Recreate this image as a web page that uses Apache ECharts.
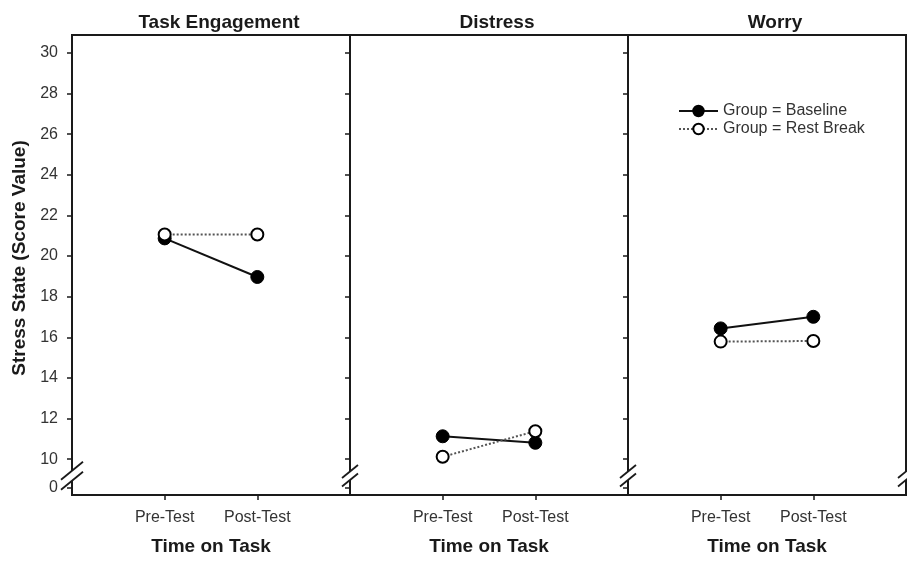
<!DOCTYPE html>
<html>
<head>
<meta charset="utf-8">
<script src="https://cdn.jsdelivr.net/npm/echarts@6/dist/echarts.min.js"></script>
<style>
html,body{margin:0;padding:0;background:#fff;}
#chart{width:907px;height:561px;}
</style>
</head>
<body>
<div id="chart"></div>
<script>
// ---- data ----
const categories = ['Pre-Test', 'Post-Test'];
const panelTitles = ['Task Engagement', 'Distress', 'Worry'];
const seriesNames = ['Group = Baseline', 'Group = Rest Break'];
const baselineValues = [[20.87, 18.97], [11.13, 10.81], [16.44, 17.01]];
const restBreakValues = [[21.06, 21.06], [10.12, 11.38], [15.79, 15.82]];
const yTickValues = [0, 10, 12, 14, 16, 18, 20, 22, 24, 26, 28, 30];
const yAxisTitle = 'Stress State (Score Value)';
const xAxisTitle = 'Time on Task';

// broken axis: values >= 10 shown as-is, 0..10 compressed below
function toAxis(v) { return v >= 10 ? v : 10 - 1.39 * (10 - v) / 10; }
const yMin = 8.24, yMax = 30.88;
const FONT = 'Liberation Sans, Arial, sans-serif';

const gridLefts = [72, 350, 628];
const gridW = 278, gridTop = 35, gridH = 463;

const grids = [], xAxes = [], yAxes = [], series = [], titles = [];
panelTitles.forEach((t, i) => {
  grids.push({ left: gridLefts[i], top: gridTop, width: gridW, height: gridH,
    show: true, borderColor: '#1a1a1a', borderWidth: 2, backgroundColor: 'transparent' });
  titles.push({ text: t, left: gridLefts[i] + gridW / 2 + 3, top: 8, textAlign: 'center',
    textStyle: { fontFamily: FONT, fontWeight: 'bold', fontSize: 19, color: '#1a1a1a' } });
  xAxes.push({
    type: 'value', gridIndex: i, min: 0, max: 3,
    splitLine: { show: false },
    axisLine: { show: false },
    axisTick: { show: true, inside: false, length: 5, customValues: [1, 2],
      lineStyle: { color: '#1a1a1a', width: 1.5 } },
    axisLabel: { show: true, customValues: [1, 2], margin: 15,
      formatter: v => categories[Math.round(v) - 1] || '',
      fontFamily: FONT, fontSize: 16, color: '#333' },
    name: xAxisTitle, nameLocation: 'middle', nameGap: 42,
    nameTextStyle: { fontFamily: FONT, fontWeight: 'bold', fontSize: 19, color: '#1a1a1a' }
  });
  const yCustom = yTickValues.map(toAxis);
  let seriesYIndex;
  if (i === 0) {
    yAxes.push({
      type: 'value', gridIndex: i, position: 'left', min: yMin, max: yMax,
      splitLine: { show: false }, axisLine: { show: false },
      axisTick: { show: true, inside: false, length: 5, customValues: yCustom,
        lineStyle: { color: '#1a1a1a', width: 1.5 } },
      axisLabel: { show: true, customValues: yCustom, margin: 14,
        formatter: v => (v < 10 ? '0' : String(Math.round(v))),
        fontFamily: FONT, fontSize: 16, color: '#333' }
    });
    seriesYIndex = yAxes.length - 1;
  }
  yAxes.push({
    type: 'value', gridIndex: i, position: 'right', min: yMin, max: yMax,
    splitLine: { show: false }, axisLine: { show: false },
    axisTick: { show: true, inside: true, length: 5, customValues: yCustom,
      lineStyle: { color: '#1a1a1a', width: 1.5 } },
    axisLabel: { show: false }
  });
  if (i !== 0) seriesYIndex = yAxes.length - 1;

  series.push({
    name: seriesNames[0], type: 'line', xAxisIndex: i, yAxisIndex: seriesYIndex,
    data: baselineValues[i].map((v, k) => [k + 1, toAxis(v)]),
    symbol: 'circle', symbolSize: 13, z: 3,
    lineStyle: { color: '#111', width: 2, type: 'solid' },
    itemStyle: { color: '#000', borderColor: '#000', borderWidth: 1 },
    emphasis: { disabled: true }
  });
  series.push({
    name: seriesNames[1], type: 'line', xAxisIndex: i, yAxisIndex: seriesYIndex,
    data: restBreakValues[i].map((v, k) => [k + 1, toAxis(v)]),
    symbol: 'circle', symbolSize: 12, z: 4,
    lineStyle: { color: '#555', width: 2, type: [2, 2] },
    itemStyle: { color: '#fff', borderColor: '#000', borderWidth: 2 },
    emphasis: { disabled: true }
  });
});

const option = {
  animation: false,
  backgroundColor: '#fff',
  title: titles,
  grid: grids,
  xAxis: xAxes,
  yAxis: yAxes,
  series: series,
  legend: {
    data: seriesNames, orient: 'vertical', left: 673, top: 98,
    itemWidth: 39, itemHeight: 13, itemGap: 2, itemTextGap: 8,
    selectedMode: false,
    textStyle: { fontFamily: FONT, fontSize: 16, color: '#333' }
  }
};

const chart = echarts.init(document.getElementById('chart'), null, { renderer: 'canvas' });
chart.setOption(option);

// axis break marks and y-axis title
const breakVal = toAxis(9.19 >= 10 ? 9.19 : 10) - 0.81;
const g = [];
const borders = [
  { grid: 0, x: 0, hw: 11, hh: 9, sep: 10 },
  { grid: 0, x: 3, hw: 8, hh: 6.5, sep: 8.5 },
  { grid: 1, x: 3, hw: 8, hh: 6.5, sep: 8.5 },
  { grid: 2, x: 3, hw: 8, hh: 6.5, sep: 8.5 }
];
borders.forEach(b => {
  const p = chart.convertToPixel({ gridIndex: b.grid }, [b.x, breakVal]);
  const x0 = p[0], yc = p[1];
  const y1 = yc - b.sep / 2, y2 = yc + b.sep / 2;
  g.push({ type: 'polygon', z: 100, silent: true,
    shape: { points: [[x0 - b.hw, y1 + b.hh], [x0 + b.hw, y1 - b.hh], [x0 + b.hw, y2 - b.hh], [x0 - b.hw, y2 + b.hh]] },
    style: { fill: '#fff' } });
  [y1, y2].forEach(yy => {
    g.push({ type: 'line', z: 101, silent: true,
      shape: { x1: x0 - b.hw, y1: yy + b.hh, x2: x0 + b.hw, y2: yy - b.hh },
      style: { stroke: '#1a1a1a', lineWidth: 1.8 } });
  });
});
g.push({ type: 'text', z: 100, x: 20, y: 258, rotation: Math.PI / 2, silent: true,
  style: { text: yAxisTitle, fontFamily: FONT, fontWeight: 'bold', fontSize: 19,
    fill: '#1a1a1a', align: 'center', verticalAlign: 'middle' } });
chart.setOption({ graphic: g });
</script>
</body>
</html>
